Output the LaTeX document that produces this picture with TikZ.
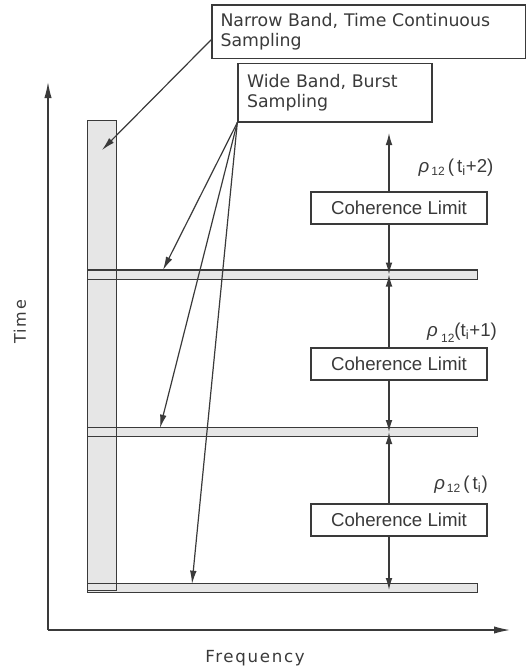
\documentclass[tikz,border=0pt]{standalone}
\usepackage{fontspec}
\setmainfont{Liberation Sans}
\newfontfamily\genevafont{DejaVu Sans}
\newfontfamily\genevawide{DejaVu Sans}[LetterSpace=10]
\usetikzlibrary{arrows.meta, calc}
\definecolor{inkgray}{HTML}{3A3A3A}
\definecolor{bandgray}{HTML}{E6E6E6}

\begin{document}
\begin{tikzpicture}[
    x=0.75pt, y=-0.75pt,
    every node/.style={font=\fontsize{14}{16}\selectfont, text=inkgray},
    callout/.style={rectangle, draw=inkgray, line width=1pt, align=left, inner sep=0pt, font=\genevafont\fontsize{13}{15}\selectfont},
    limit/.style={rectangle, draw=inkgray, line width=1pt, fill=white, minimum width=132pt, minimum height=24pt, inner sep=0pt, font=\fontsize{14}{16}\selectfont},
    band/.style={rectangle, fill=bandgray, inner sep=0pt},
    axis/.style={-{Latex[length=12pt,width=5.5pt]}, line width=1pt, draw=inkgray},
    dim/.style={{Latex[length=9pt,width=5pt]}-{Latex[length=9pt,width=5pt]}, line width=0.9pt, draw=inkgray},
    pointer/.style={-{Latex[length=10pt,width=5pt]}, line width=0.9pt, draw=inkgray}
]
\useasboundingbox (0,0) rectangle (528,671);

% Axes
\coordinate (origin) at (48,630);
\coordinate (timetip) at (48,82);
\coordinate (freqtip) at (510,630);
\draw[axis] (origin) -- (timetip);
\draw[axis] (origin) -- (freqtip);
\node[rotate=90, font=\genevawide\fontsize{12}{14}\selectfont] (timelbl) at (20,322) {Time};
\node[font=\genevawide\fontsize{12.5}{14}\selectfont] (freqlbl) at (255,658) {Frequency};

% Sampling bands
\node[band, minimum width=21pt, minimum height=351.75pt] (narrow) at (102,355.5) {};
\node[band, minimum width=291.75pt, minimum height=6.5pt] (bar1) at (282.5,274.5) {};
\node[band, minimum width=291.75pt, minimum height=6.5pt] (bar2) at (282.5,432) {};
\node[band, minimum width=291.75pt, minimum height=6.5pt] (bar3) at (282.5,588) {};
\foreach \b in {narrow, bar1, bar2, bar3} {
    \draw[inkgray, line width=0.9pt] (\b.south west) rectangle (\b.north east);
}

% Callouts
\node[callout, minimum width=235pt, minimum height=40pt, text width=222pt] (nb) at (368.5,31.5) {Narrow Band, Time Continuous\\Sampling};
\node[callout, minimum width=145.5pt, minimum height=44pt, text width=132pt] (wb) at (335,92.5) {Wide Band, Burst\\Sampling};

% Arrow tips on the bands
\coordinate (nbtip) at (102,150);
\coordinate (tip1) at (163,270);
\coordinate (tip2) at (160,428);
\coordinate (tip3) at (192,584);
\draw[pointer] (nb.183) -- (nbtip);
\foreach \t in {tip1, tip2, tip3} {
    \draw[pointer] (wb.south west) -- (\t);
}

% Coherence intervals
\coordinate (d0) at (389,133);
\coordinate (d1) at (389,274.5);
\coordinate (d2) at (389,432);
\coordinate (d3) at (389,590);
\draw[dim] (d0) -- (d1);
\draw[dim] (d1) -- (d2);
\draw[dim] (d2) -- (d3);

\node[limit] (lim3) at (399,208) {Coherence Limit};
\node[limit] (lim2) at (399,364) {Coherence Limit};
\node[limit] (lim1) at (399,520) {Coherence Limit};

\node (rho3) at (456,168) {\textit{ρ}\raisebox{-0.3ex}{\small\,12}\,(\,t\textsubscript{i}+2)};
\node (rho2) at (462,333) {\textit{ρ}\raisebox{-0.6ex}{\small\;12}(t\textsubscript{i}+1)};
\node (rho1) at (461,485) {\textit{ρ}\raisebox{-0.3ex}{\small\,12}\,(\,t\textsubscript{i})};

\end{tikzpicture}
\end{document}
